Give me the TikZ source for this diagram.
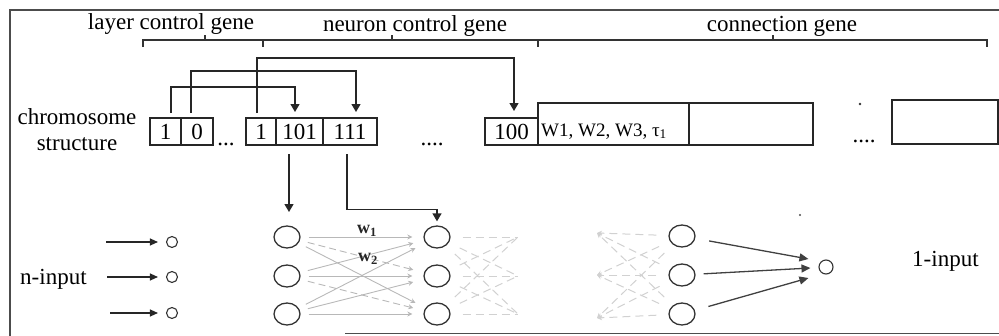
\documentclass[tikz,border=0pt]{standalone}
\usepackage{fontspec}
\setmainfont{Liberation Serif}
\usetikzlibrary{arrows.meta,calc,shapes.geometric}

\begin{document}
\begin{tikzpicture}[x=1pt,y=-1pt,
  every node/.style={font=\fontsize{23}{26}\selectfont, text=black},
  frameline/.style={draw=black!70, line width=1.8pt},
  bracketline/.style={draw=black!80, line width=1.3pt},
  cell/.style={draw=black!85, line width=1.3pt, minimum height=27pt,
    inner sep=0pt, outer sep=0pt},
  tallcell/.style={cell, minimum height=42pt},
  link/.style={draw=black!85, line width=1.3pt,
    -{Triangle[width=9pt,length=8pt]}},
  neuron/.style={ellipse, draw=black!80, line width=1.3pt,
    minimum width=26pt, minimum height=22pt, inner sep=0pt},
  port/.style={circle, draw=black!80, line width=1.1pt,
    minimum size=11pt, inner sep=0pt},
  inarrow/.style={draw=black!85, line width=1.2pt,
    -{Triangle[width=7pt,length=8pt]}},
  weight/.style={draw=black!28, line width=0.9pt,
    -{Stealth[width=5pt,length=5pt]}},
  weightd/.style={weight, dash pattern=on 7pt off 4pt},
  fadeline/.style={draw=black!18, line width=1pt, dash pattern=on 8pt off 5pt},
  fadearrow/.style={fadeline, -{Stealth[width=5pt,length=5pt]}},
  outarrow/.style={draw=black!75, line width=1.3pt,
    -{Triangle[width=8pt,length=9pt]}},
  lbl/.style={anchor=base, inner sep=0pt},
  wlabel/.style={inner sep=0pt, font=\fontsize{18}{18}\selectfont\bfseries, text=black!85},
]
\useasboundingbox (0,0) rectangle (999,335);

% outer frame
\draw[frameline] (999,10) -- (10,10) -- (10,336);
\draw[frameline] (345,333.5) -- (999,333.5);

% gene group labels and bracket
\node[lbl] (lg) at (171,29) {layer control gene};
\node[lbl] (ng) at (415,31.5) {neuron control gene};
\node[lbl] (cg) at (782,31.5) {connection gene};
\draw[bracketline] (143,47) -- (143,40) -- (987,40) -- (987,47);
\draw[bracketline] (263,40) -- (263,47);
\draw[bracketline] (538,40) -- (538,47);
\draw[bracketline] (205,40) -- (205,35);
\draw[bracketline] (392,40) -- (392,35);
\draw[bracketline] (773,40) -- (773,35);

% chromosome
\node[align=center, inner sep=0pt] (chr) at (77,130) {chromosome\\structure};

\node[cell, minimum width=31pt] (c1) at (165.5,131.5) {1};
\node[cell, minimum width=32pt] (c2) at (197,131.5) {0};
\node[lbl] (d1) at (226,145) {...};
\node[cell, minimum width=30pt] (c3) at (261,131.5) {1};
\node[cell, minimum width=47pt] (c4) at (299.5,131.5) {101};
\node[cell, minimum width=54pt] (c5) at (350,131.5) {111};
\node[lbl] (d2) at (432,145) {....};
\node[cell, minimum width=53pt] (c6) at (511.5,131.5) {100};
\node[tallcell, minimum width=151pt] (c7) at (613.5,124) {};
\node[tallcell, minimum width=124pt] (c8) at (751,124) {};
\node[anchor=base west, inner sep=0pt, font=\fontsize{19}{19}\selectfont]
  (wt) at (541,136) {W1, W2, W3, τ\textsubscript{1}};
\node[lbl] (d3) at (864,142) {....};
\fill[black!80] (860,104) circle (1.3);
\node[cell, minimum width=106pt, minimum height=44pt] (c9) at (945,122) {};

% gene pointers
\draw[link] ($(c1.north)+(5.5,-5)$) |- ($(c4.north)+(-4.5,-31)$)
  -- ($(c4.north)+(-4.5,-6)$);
\draw[link] ($(c2.north)+(-6,-5)$) |- ($(c5.north)+(6,-47)$)
  -- ($(c5.north)+(6,-6)$);
\draw[link] ($(c3.north)+(-4,-5)$) |- ($(c6.north)+(2.5,-60)$)
  -- ($(c6.north)+(2.5,-7)$);

% network
\node[port] (i1) at (172,242) {};
\node[port] (i2) at (172,277) {};
\node[port] (i3) at (172,313) {};
\coordinate (s1) at (106,242);
\coordinate (s2) at (107,277);
\coordinate (s3) at (110,313);
\draw[inarrow, shorten >=8pt] (s1) -- (i1);
\draw[inarrow, shorten >=8pt] (s2) -- (i2);
\draw[inarrow, shorten >=8pt] (s3) -- (i3);
\node[anchor=base west, inner sep=0pt] (nin) at (20,284) {n-input};

\node[neuron] (a1) at (287,237) {};
\node[neuron] (a2) at (287,276) {};
\node[neuron] (a3) at (287,314) {};
\node[neuron] (b1) at (437,237) {};
\node[neuron] (b2) at (437,276) {};
\node[neuron] (b3) at (437,314) {};
\node[neuron] (e1) at (682,236) {};
\node[neuron] (e2) at (682,275) {};
\node[neuron] (e3) at (682,314) {};
\node[port, minimum size=14pt] (o) at (826,267) {};

% layer pointers from the neuron control genes
\coordinate (t1) at (289,212);
\draw[link] ($(c4.south)+(-10.5,9)$) -- (t1);
\draw[link] ($(c5.south)+(-3,9)$) |- ($(b1.north)+(0,-16)$)
  -- ($(b1.north)+(0,-4)$);

% weights between the first two hidden layers
\begin{scope}[shorten <=8pt, shorten >=11pt]
  \draw[weight]  (a1) -- (b1);
  \draw[weightd] (a1) -- (b2);
  \draw[weight]  (a1) -- (b3);
  \draw[weight]  (a2) -- (b1);
  \draw[weight]  (a2) -- (b2);
  \draw[weightd] (a2) -- (b3);
  \draw[weight]  (a3) -- (b1);
  \draw[weight]  (a3) -- (b2);
  \draw[weight]  (a3) -- (b3);
\end{scope}
\node[wlabel] (w1) at (367,231) {w\textsubscript{1}};
\node[wlabel] (w2) at (368,259) {w\textsubscript{2}};

% faded connections to and from the omitted layers
\coordinate (f1) at (518,237);
\coordinate (f2) at (518,276);
\coordinate (f3) at (518,314);
\begin{scope}[shorten <=12pt]
  \foreach \s in {b1,b2,b3}
    \foreach \t in {f1,f2,f3}
      \draw[fadeline] (\s) -- (\t);
\end{scope}
\coordinate (g1) at (597,233);
\coordinate (g2) at (597,275);
\coordinate (g3) at (597,318);
\begin{scope}[shorten <=12pt]
  \foreach \s in {e1,e2,e3}
    \foreach \t in {g1,g2,g3}
      \draw[fadearrow] (\s) -- (\t);
\end{scope}

% output layer
\draw[outarrow, shorten <=14pt] (e1) -- ($(o.west)+(-10,-8)$);
\draw[outarrow, shorten <=8pt]  (e2) -- ($(o.west)+(-8,1)$);
\draw[outarrow, shorten <=14pt] (e3) -- ($(o.west)+(-10,11)$);
\fill[black!70] (800,215) circle (1.1);
\node[anchor=base west, inner sep=0pt] (oin) at (912,266) {1-input};

\end{tikzpicture}
\end{document}
